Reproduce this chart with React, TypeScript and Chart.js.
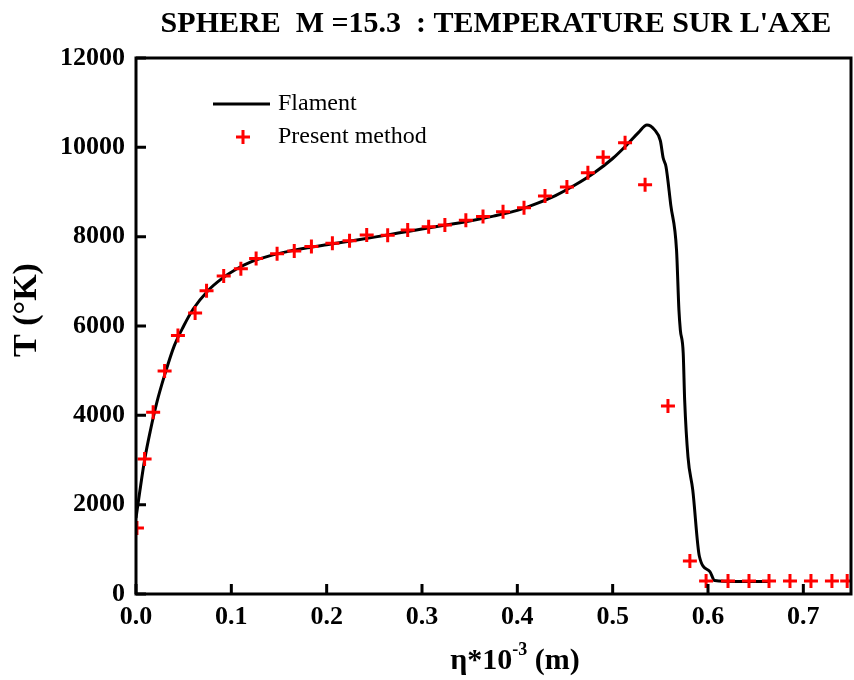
import React, { useEffect, useRef } from "react";
import { Chart, registerables } from "chart.js";

Chart.register(...registerables);

const titleText = "SPHERE  M =15.3  : TEMPERATURE SUR L'AXE";
const yTitle = "T (°K)";
const xTitleBase = "η*10";
const xTitleSup = "-3";
const xTitleTail = " (m)";
const lineLabel = "Flament";
const markLabel = "Present method";

const xTicks = [0, 0.1, 0.2, 0.3, 0.4, 0.5, 0.6, 0.7];
const yTicks = [0, 2000, 4000, 6000, 8000, 10000, 12000];

const flamentX = [0, 0.004, 0.009, 0.015, 0.022, 0.03, 0.04, 0.05, 0.06, 0.075, 0.09, 0.105, 0.12, 0.14, 0.16, 0.18, 0.2, 0.225, 0.25, 0.275, 0.3, 0.325, 0.35, 0.375, 0.4, 0.42, 0.44, 0.46, 0.48, 0.5, 0.515, 0.527, 0.536, 0.544, 0.55, 0.553, 0.556, 0.561, 0.567, 0.5695, 0.571, 0.574, 0.5755, 0.579, 0.584, 0.591, 0.602, 0.607, 0.63, 0.665];
const flamentT = [1700, 2300, 3000, 3650, 4300, 4900, 5550, 6000, 6380, 6780, 7060, 7270, 7430, 7570, 7670, 7750, 7820, 7905, 7990, 8080, 8170, 8260, 8350, 8460, 8590, 8740, 8920, 9150, 9420, 9750, 10060, 10330, 10500, 10390, 10150, 9760, 9560, 8700, 7700, 6360, 5910, 5390, 4350, 3070, 2330, 840, 500, 300, 280, 280];

const presentX = [0.001, 0.009, 0.018, 0.03, 0.044, 0.062, 0.074, 0.092, 0.11, 0.126, 0.148, 0.166, 0.184, 0.206, 0.224, 0.242, 0.264, 0.285, 0.307, 0.324, 0.346, 0.364, 0.385, 0.407, 0.429, 0.452, 0.474, 0.49, 0.513, 0.534, 0.558, 0.581, 0.598, 0.621, 0.643, 0.664, 0.686, 0.708, 0.73, 0.746];
const presentT = [1480, 3020, 4070, 4990, 5790, 6290, 6790, 7120, 7280, 7510, 7620, 7680, 7780, 7850, 7910, 8040, 8030, 8150, 8220, 8260, 8370, 8450, 8560, 8650, 8910, 9110, 9430, 9780, 10100, 9160, 4210, 740, 290, 290, 290, 290, 290, 290, 290, 290];

const SERIF = '"Liberation Serif", "Times New Roman", serif';

const decor = {
  id: "decor",
  afterDatasetsDraw(chart: any) {
    const { ctx, chartArea: a } = chart;
    const xs = chart.scales.x;
    const ys = chart.scales.y;
    ctx.save();
    ctx.strokeStyle = "#000";
    ctx.lineWidth = 3;
    ctx.lineCap = "butt";
    ctx.strokeRect(a.left, a.top, a.right - a.left, a.bottom - a.top);
    ctx.beginPath();
    for (const v of yTicks) {
      const p = ys.getPixelForValue(v);
      ctx.moveTo(a.left, p);
      ctx.lineTo(a.left + 10, p);
    }
    for (const v of xTicks) {
      const p = xs.getPixelForValue(v);
      ctx.moveTo(p, a.bottom);
      ctx.lineTo(p, a.bottom - 10);
    }
    ctx.stroke();
    ctx.restore();
  },
  afterDraw(chart: any) {
    const { ctx } = chart;
    ctx.save();
    ctx.fillStyle = "#000";
    // title
    ctx.font = `bold 30px ${SERIF}`;
    ctx.textAlign = "center";
    ctx.textBaseline = "alphabetic";
    ctx.fillText(titleText, 496, 32);
    // y title
    ctx.save();
    ctx.translate(36, 310);
    ctx.rotate(-Math.PI / 2);
    ctx.font = `bold 34px ${SERIF}`;
    ctx.textAlign = "center";
    ctx.fillText(yTitle, 0, 0);
    ctx.restore();
    // x title with superscript
    ctx.textAlign = "left";
    const base = `bold 30px ${SERIF}`;
    const sup = `bold 18px ${SERIF}`;
    ctx.font = base;
    const w1 = ctx.measureText(xTitleBase).width;
    const w3 = ctx.measureText(xTitleTail).width;
    ctx.font = sup;
    const w2 = ctx.measureText(xTitleSup).width;
    const total = w1 + w2 + w3;
    let x = 515 - total / 2;
    const by = 669;
    ctx.font = base;
    ctx.fillText(xTitleBase, x, by);
    x += w1;
    ctx.font = sup;
    ctx.fillText(xTitleSup, x, by - 14);
    x += w2;
    ctx.font = base;
    ctx.fillText(xTitleTail, x, by);
    // legend
    ctx.font = `24px ${SERIF}`;
    ctx.textBaseline = "middle";
    ctx.fillText(lineLabel, 278, 104);
    ctx.fillText(markLabel, 278, 137);
    ctx.strokeStyle = "#000";
    ctx.lineWidth = 3;
    ctx.beginPath();
    ctx.moveTo(213, 104);
    ctx.lineTo(270, 104);
    ctx.stroke();
    ctx.strokeStyle = "#ff0000";
    ctx.beginPath();
    ctx.moveTo(243 - 7, 137);
    ctx.lineTo(243 + 7, 137);
    ctx.moveTo(243, 137 - 7);
    ctx.lineTo(243, 137 + 7);
    ctx.stroke();
    ctx.restore();
  },
};

export default function App() {
  const ref = useRef<HTMLCanvasElement | null>(null);
  useEffect(() => {
    if (!ref.current) return;
    const chart = new Chart(ref.current, {
      type: "scatter",
      data: {
        datasets: [
          {
            label: markLabel,
            data: presentX.map((x, i) => ({ x, y: presentT[i] })),
            pointStyle: "cross",
            pointRadius: 7,
            pointBorderWidth: 3,
            borderColor: "#ff0000",
            backgroundColor: "#ff0000",
            showLine: false,
            order: 0,
            clip: 0,
          } as any,
          {
            label: lineLabel,
            data: flamentX.map((x, i) => ({ x, y: flamentT[i] })),
            showLine: true,
            borderColor: "#000",
            borderWidth: 3,
            pointRadius: 0,
            cubicInterpolationMode: "monotone",
            order: 1,
            clip: 0,
          } as any,
        ],
      },
      options: {
        responsive: false,
        animation: false,
        events: [],
        layout: { autoPadding: false, padding: { top: 58, right: 3, left: 0, bottom: 0 } },
        plugins: {
          legend: { display: false },
          tooltip: { enabled: false },
          title: { display: false },
        },
        scales: {
          x: {
            type: "linear",
            min: 0,
            max: 0.75,
            grid: { display: false, drawTicks: false },
            border: { display: false },
            afterFit: (s: any) => {
              s.height = 86;
              s.paddingLeft = 0;
              s.paddingRight = 0;
            },
            ticks: {
              stepSize: 0.1,
              includeBounds: false,
              padding: 8,
              color: "#000",
              font: { family: SERIF, size: 26, weight: "bold" },
              callback: (v: any) => Number(v).toFixed(1),
              maxRotation: 0,
              autoSkip: false,
            },
          },
          y: {
            type: "linear",
            min: 0,
            max: 12000,
            grid: { display: false, drawTicks: false },
            border: { display: false },
            afterFit: (s: any) => {
              s.width = 136;
              s.paddingTop = 0;
              s.paddingBottom = 0;
            },
            ticks: {
              stepSize: 2000,
              padding: 11,
              color: "#000",
              font: { family: SERIF, size: 26, weight: "bold" },
              callback: (v: any) => String(v),
            },
          },
        },
      },
      plugins: [decor],
    });
    return () => chart.destroy();
  }, []);
  return (
    <div style={{ position: "fixed", left: 0, top: 0, width: 854, height: 680, background: "#fff" }}>
      <canvas ref={ref} width={854} height={680} style={{ width: 854, height: 680 }} />
    </div>
  );
}
